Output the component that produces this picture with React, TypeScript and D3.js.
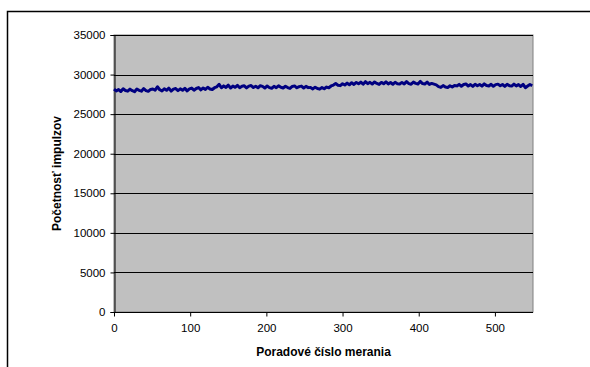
import React, { useEffect, useRef } from 'react';
import * as d3 from 'd3';

// measurement counts, every 3rd measurement (index 0, 3, 6 ... 549)
const STEP = 3;
const counts = [
  28170, 27930, 28110, 27860, 28200, 27990, 27900, 28160, 27960, 27840, 28170, 28010, 27900, 28230, 27980, 27880, 28120, 28180,
  28040, 28460, 28080, 27930, 28210, 28010, 28280, 27910, 28160, 28230, 27970, 28190, 28020, 28260, 27940, 28200, 28290, 28030,
  28240, 28360, 28070, 28310, 28130, 28400, 28180, 28110, 28340, 28450,
  28770, 28330, 28570, 28380, 28660, 28300, 28550, 28390, 28630, 28340, 28520, 28580, 28310, 28540, 28610, 28360, 28520, 28330, 28590,
  28510, 28300, 28560, 28350, 28270, 28520, 28340, 28580, 28390, 28310, 28530, 28360, 28250, 28500, 28570, 28330, 28480, 28540, 28300, 28510, 28350,
  28380, 28190, 28410, 28230, 28160, 28360, 28210, 28420, 28330,
  28560, 28680, 28870, 28660, 28600, 28840, 28680,
  28920, 28710, 28970, 28750, 29000, 28830, 29040, 28780, 29100, 28850, 29020, 28800, 29070, 28880, 28760, 29010, 28840, 29080, 28820, 28990, 28770, 29030, 28850, 28800,
  29010, 28820, 29110, 28860, 28780, 29050, 28890, 28810, 29130, 28870, 28800, 29040, 28750, 28880, 28790,
  28700, 28470, 28380, 28610, 28420, 28360, 28590, 28430, 28630,
  28570, 28760, 28530, 28740, 28810, 28550, 28730, 28500, 28780, 28590, 28750, 28540, 28820, 28610, 28560, 28770, 28520, 28730, 28790, 28580, 28740, 28510, 28760, 28600, 28550, 28800, 28570, 28730, 28490, 28770, 28340, 28550, 28750, 28590,
];
const yTicks = [0, 5000, 10000, 15000, 20000, 25000, 30000, 35000];
const xTicks = [0, 100, 200, 300, 400, 500];

const xLabel = 'Poradové číslo merania';
const yLabel = 'Početnosť impulzov';

const App = () => {
  const ref = useRef<SVGSVGElement>(null);

  useEffect(() => {
    const svg = d3.select(ref.current);
    svg.selectAll('*').remove();

    const left = 114, right = 533, top = 35, bottom = 312;
    const font = 'Arial, "Liberation Sans", sans-serif';

    const x = d3.scaleLinear().domain([0, 550]).range([left, right]);
    const y = d3.scaleLinear().domain([0, 35000]).range([bottom, top]);

    // outer chart frame (cropped on right/bottom)
    svg.append('rect')
      .attr('x', 7.5).attr('y', 11.5)
      .attr('width', 700).attr('height', 500)
      .attr('fill', 'white')
      .attr('stroke', 'black')
      .attr('stroke-width', 1.5);

    // plot area
    svg.append('rect')
      .attr('x', left).attr('y', top)
      .attr('width', right - left).attr('height', bottom - top)
      .attr('fill', '#c0c0c0')
      .attr('stroke', '#808080')
      .attr('stroke-width', 1);

    // gridlines
    svg.append('g')
      .selectAll('line')
      .data(yTicks.filter(d => d > 0))
      .join('line')
      .attr('x1', left).attr('x2', right)
      .attr('y1', d => Math.round(y(d)) + 0.5)
      .attr('y2', d => Math.round(y(d)) + 0.5)
      .attr('stroke', '#000')
      .attr('stroke-width', 1);

    // y axis
    const yAxis = svg.append('g')
      .attr('transform', `translate(${left + 0.5},0)`)
      .call(d3.axisLeft(y).tickValues(yTicks).tickSize(4).tickPadding(5).tickFormat(d3.format('d')));
    yAxis.select('.domain').attr('stroke', '#000');
    yAxis.selectAll('line').attr('stroke', '#000');
    yAxis.selectAll('text').attr('font-family', font).attr('font-size', 11.5).attr('fill', '#000');

    // x axis
    const xAxis = svg.append('g')
      .attr('transform', `translate(0,${bottom + 0.5})`)
      .call(d3.axisBottom(x).tickValues(xTicks).tickSize(4).tickPadding(7).tickFormat(d3.format('d')));
    xAxis.select('.domain').attr('stroke', '#000').attr('d', `M${left},0H${right}`);
    xAxis.selectAll('line').attr('stroke', '#000');
    xAxis.selectAll('text').attr('font-family', font).attr('font-size', 11.5).attr('fill', '#000');

    // series
    const line = d3.line<number>()
      .x((_, i) => x(i * STEP))
      .y(d => y(d));

    svg.append('path')
      .datum(counts)
      .attr('d', line)
      .attr('fill', 'none')
      .attr('stroke', '#000080')
      .attr('stroke-width', 3)
      .attr('stroke-linejoin', 'round');

    // axis titles
    svg.append('text')
      .attr('x', (left + right) / 2)
      .attr('y', 356)
      .attr('text-anchor', 'middle')
      .attr('font-family', font)
      .attr('font-size', 12)
      .attr('font-weight', 'bold')
      .text(xLabel);

    svg.append('text')
      .attr('transform', `translate(61,${(top + bottom) / 2}) rotate(-90)`)
      .attr('text-anchor', 'middle')
      .attr('font-family', font)
      .attr('font-size', 12)
      .attr('font-weight', 'bold')
      .text(yLabel);
  }, []);

  return (
    <svg
      ref={ref}
      width={590}
      height={367}
      style={{ position: 'absolute', left: 0, top: 0, background: 'white' }}
    />
  );
};

export default App;
